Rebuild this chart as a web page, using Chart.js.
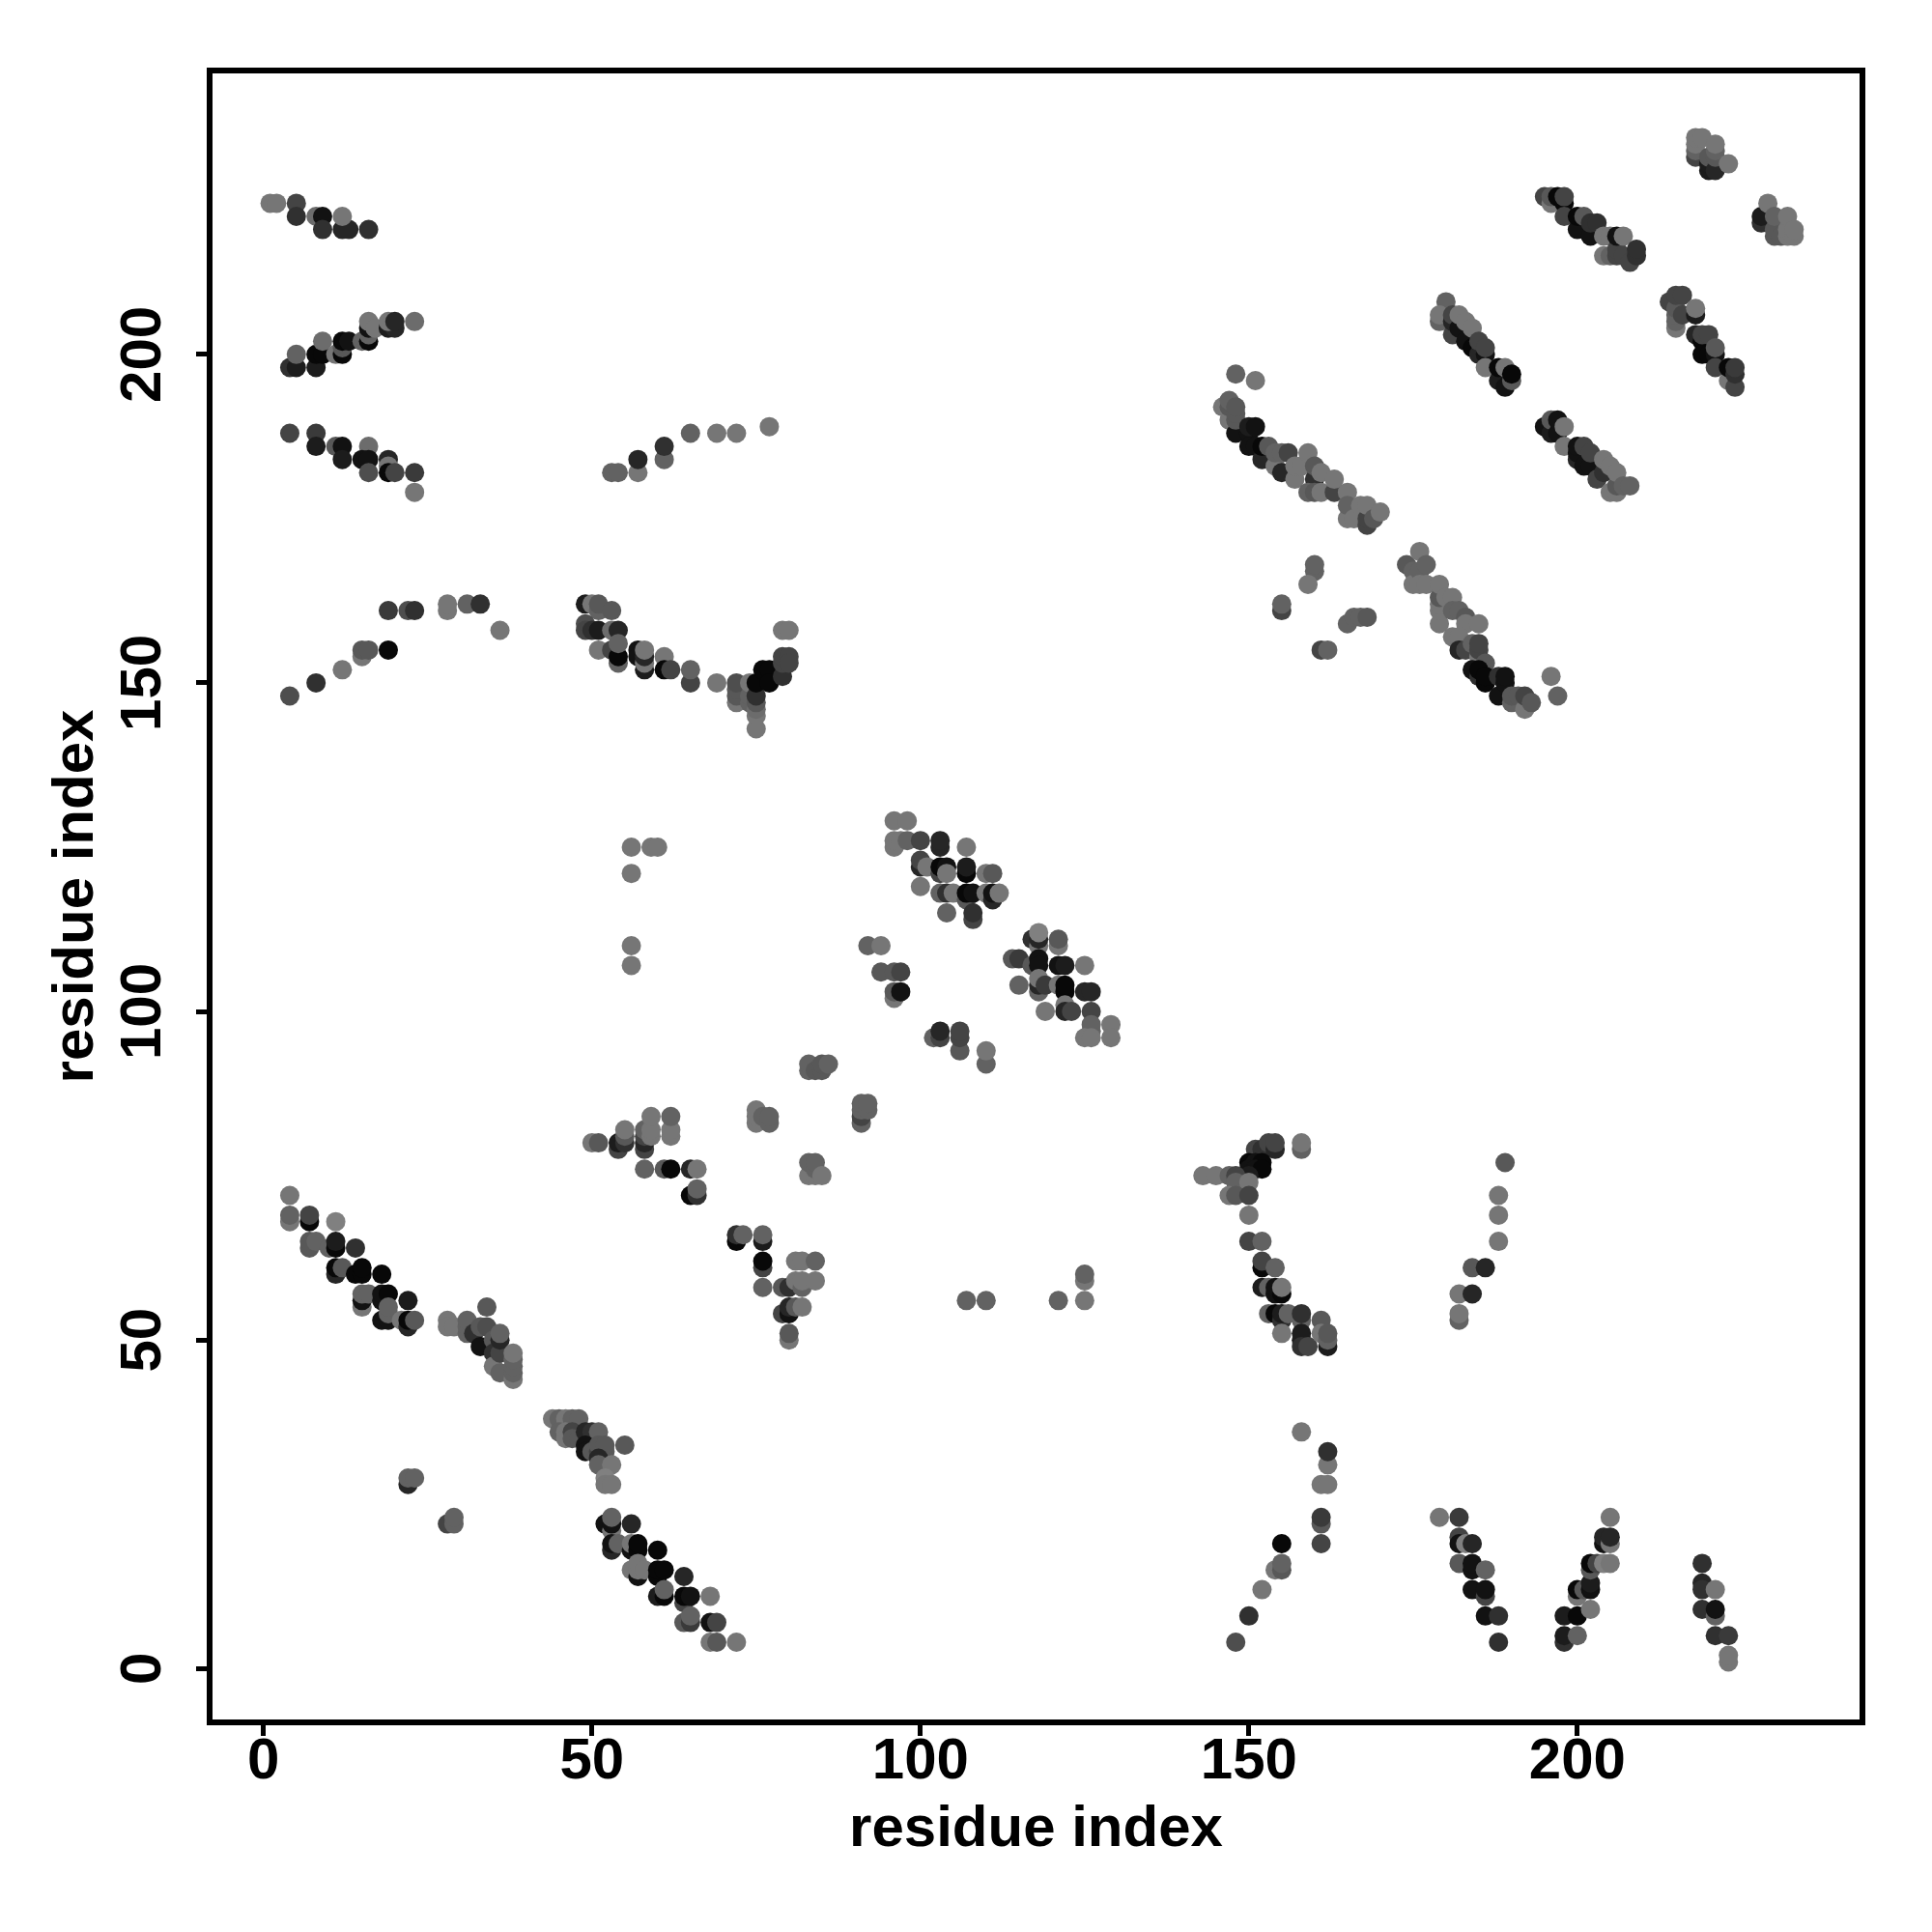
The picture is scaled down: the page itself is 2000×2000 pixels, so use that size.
<!DOCTYPE html>
<html>
<head>
<meta charset="utf-8">
<title>residue contacts</title>
<script src="https://cdn.jsdelivr.net/npm/chart.js@4"></script>
<style>
  html, body { margin: 0; padding: 0; background: #fff; }
  canvas { display: block; }
</style>
</head>
<body>
<canvas id="contactMap" width="2000" height="2000"></canvas>
<script>
const axisTicks = [0, 50, 100, 150, 200];
const axisLabel = 'residue index';

// each contact: [residue i, residue j, strength 0-12]
const topLeftA = [[1,223,1],[2,223,1],[5,223,6],[5,221,8],[8,221,2],[9,221,11],[9,219,8],[12,219,9],[13,219,9],[12,221,1],[16,219,8]];
const topLeftB = [[4,198,8],[5,198,10],[8,198,10],[8,200,12],[9,200,12],[5,200,3],[9,202,2],[11,200,1],[12,200,12],[12,201,4],[12,202,12],[13,202,11],[15,202,3],[16,202,12],[16,203,3],[16,204,11],[16,205,1],[17,204,1],[19,204,10],[20,204,9],[19,205,1],[20,205,9],[23,205,2]];
const topLeftC = [[4,188,6],[8,188,7],[8,186,10],[11,186,4],[12,186,11],[12,184,10],[16,186,2],[15,184,11],[16,184,11],[19,184,9],[16,182,5],[19,183,1],[19,182,12],[20,182,6],[23,182,7],[23,179,1]];
const upperArc = [[4,148,5],[8,150,8],[12,152,1],[15,154,1],[15,155,4],[16,155,4],[19,155,12],[19,161,7],[22,161,5],[23,161,8],[28,161,1],[28,162,1],[31,162,3],[33,162,8],[36,158,1]];
const upperDip = [[49,162,10],[50,162,1],[51,161,3],[51,162,4],[53,161,4],[49,159,5],[49,158,6],[50,158,8],[51,158,10],[53,158,2],[54,158,9],[51,155,1],[53,155,6],[54,153,3],[54,154,12],[54,156,3],[57,155,11],[57,154,11],[58,152,10],[58,153,1],[58,154,9],[58,155,1],[61,154,1],[61,152,12],[62,152,6],[65,150,6],[65,152,3],[69,150,1],[72,147,1],[72,148,4],[72,149,4],[72,150,5],[74,147,3],[74,148,3],[74,150,1],[75,143,1],[75,145,1],[75,146,2],[75,147,4],[75,148,8],[75,150,12],[76,152,12],[77,152,12],[77,150,12],[79,151,8],[79,153,6],[79,154,6],[79,158,1],[80,158,1],[80,154,6],[80,153,6]];
const upperLink = [[53,182,3],[54,182,3],[57,182,1],[57,184,9],[61,184,3],[61,186,8],[65,188,3],[69,188,1],[72,188,1],[77,189,1]];
const lowerDiagA = [[4,68,1],[4,69,3],[4,72,1],[7,68,12],[7,69,6],[11,68,0],[7,64,4],[7,65,4],[8,65,3],[10,64,3],[11,64,12],[11,65,10],[14,64,8],[11,60,9],[11,61,12],[12,61,4],[14,60,12],[15,60,12],[15,61,12],[18,60,12],[15,55,1],[15,56,11],[15,57,3],[16,57,3],[18,56,11],[18,57,11],[19,57,12],[22,56,10],[18,53,11],[19,53,11],[19,54,3],[19,55,3],[21,53,1],[22,52,9],[22,53,12],[23,53,4]];
const lowerDiagB = [[28,53,1],[28,52,1],[29,52,1],[31,51,3],[31,52,3],[31,53,3],[32,51,8],[33,49,11],[33,52,4],[34,52,5],[34,55,4],[35,50,4],[35,48,8],[35,46,1],[36,45,3],[36,48,6],[36,50,9],[36,51,3],[38,44,1],[38,45,3],[38,46,3],[38,47,3],[38,48,1]];
const lowerDiagC = [[44,38,1],[45,38,3],[46,38,1],[47,38,3],[48,38,3],[45,36,3],[46,36,1],[46,35,1],[47,36,6],[47,35,4],[48,35,4],[49,36,9],[50,36,8],[51,36,3],[49,34,11],[49,33,11],[50,33,4],[51,33,6],[52,33,4],[51,34,4],[52,34,4],[55,34,4],[51,32,9],[51,31,3],[53,31,1],[52,29,0],[52,28,1],[53,28,1]];
const lowerDiagD = [[52,22,11],[53,21,1],[53,22,11],[53,23,3],[56,22,9],[53,18,9],[53,19,11],[54,19,3],[56,18,11],[56,19,1],[57,18,12],[57,19,12],[60,18,12],[56,15,1],[57,14,11],[57,15,1],[57,16,1],[58,15,1],[60,14,12],[60,15,12],[61,15,12],[64,14,9],[60,11,10],[61,11,12],[61,12,3],[64,10,6],[64,11,12],[65,11,11],[68,11,1],[64,7,4],[65,7,7],[65,8,3],[68,7,11],[69,7,6],[68,4,1],[69,4,4],[72,4,1]];
const shortLoops = [[22,28,9],[22,29,3],[23,29,3],[28,22,6],[29,22,3],[29,23,3]];
const midGroupA = [[50,80,1],[51,80,4],[54,79,6],[54,80,10],[55,80,8],[55,81,4],[55,82,1],[58,79,6],[58,80,9],[58,81,6],[58,82,3],[59,81,1],[59,82,1],[59,84,1],[62,81,1],[62,82,1],[62,84,3],[58,76,3],[61,76,4],[62,76,12],[65,76,9],[66,76,1],[65,72,12],[66,72,8],[66,73,3]];
const midGroupB = [[75,83,1],[75,84,1],[75,85,1],[76,84,3],[77,83,3],[77,84,3],[83,75,1],[83,77,3],[84,75,1],[84,76,3],[84,77,3],[85,75,1],[83,91,3],[83,92,3],[84,91,4],[85,91,4],[85,92,4],[86,92,3],[91,83,3],[91,84,6],[91,85,3],[91,86,3],[92,85,3],[92,86,3]];
const midGroupC = [[72,65,12],[72,66,8],[73,66,3],[76,65,10],[76,66,3],[76,61,6],[76,62,12],[81,62,1],[82,62,1],[84,62,3],[76,58,3],[79,58,4],[80,58,8],[81,59,1],[82,58,3],[82,59,1],[84,59,1],[79,54,6],[80,54,11],[80,55,9],[81,55,4],[82,55,1],[80,50,1],[80,51,4]];
const sparseRow = [[107,56,3],[110,56,3],[121,56,3],[125,56,1],[125,59,1],[125,60,3],[56,125,1],[59,125,1],[60,125,1],[56,121,1],[56,110,1],[56,107,1]];
const centerA = [[96,129,1],[98,129,1],[96,125,1],[96,126,1],[97,126,1],[98,126,3],[100,126,6],[103,125,9],[103,126,9],[107,125,1],[100,122,9],[100,123,6],[101,122,1],[103,121,6],[103,122,12],[104,122,11],[104,121,1],[107,121,12],[107,122,10],[110,121,1],[111,121,4],[100,119,1],[103,118,3],[104,118,8],[105,118,1],[107,117,4],[107,118,12],[108,118,11],[110,118,1],[111,117,9],[111,118,11],[112,118,1],[104,115,3],[108,114,6],[108,115,8]];
const centerB = [[92,110,3],[94,110,1],[94,106,4],[96,106,4],[97,106,6],[96,102,1],[96,103,4],[97,103,11],[102,96,3],[103,96,6],[103,97,9],[106,94,4],[106,96,6],[106,97,6],[110,92,3],[110,94,1]];
const centerC = [[117,111,8],[118,110,1],[118,111,9],[118,112,0],[121,110,1],[121,111,4],[114,108,4],[115,108,7],[117,107,4],[118,108,11],[118,107,11],[121,107,11],[122,107,10],[125,107,1],[115,104,3],[118,103,3],[118,104,9],[118,105,1],[119,104,7],[121,104,1],[122,103,12],[122,104,12],[125,103,9],[126,103,9],[119,100,1],[122,101,1],[122,100,9],[123,100,6],[126,100,6],[126,97,3],[126,98,3],[129,98,1],[125,96,1],[126,96,1],[129,96,1]];
const rightLowerA = [[158,79,3],[158,80,1],[151,79,6],[152,79,8],[153,80,6],[154,79,9],[154,80,6],[150,77,12],[151,77,11],[152,77,12],[150,76,11],[151,76,11],[152,76,12],[150,75,10],[143,75,1],[145,75,1],[147,75,3],[148,75,6],[148,74,3],[150,74,1],[147,72,1],[148,72,4],[150,72,6],[150,69,1]];
const rightLowerB = [[150,65,6],[152,65,3],[152,61,12],[152,62,6],[154,61,3],[152,58,10],[153,58,3],[154,57,11],[154,58,11],[155,57,12],[155,58,1],[153,54,3],[154,54,12],[155,53,8],[155,54,10],[156,54,3],[155,51,1],[158,53,3],[158,54,8],[161,53,4],[158,50,10],[158,51,10],[158,49,8],[159,49,6],[161,51,1],[162,49,10],[162,50,3],[162,51,4]];
const rightStreak = [[182,53,3],[182,54,1],[182,57,1],[184,57,9],[184,61,4],[186,61,9],[188,65,1],[188,69,1],[188,72,1],[189,77,4]];
const bandA = [[146,192,1],[147,190,1],[147,192,4],[147,193,3],[148,188,11],[148,190,4],[148,191,4],[148,192,4],[150,188,11],[150,189,10],[151,189,11],[150,186,11],[151,186,11],[152,184,9],[152,186,12],[153,186,4],[154,183,1],[154,185,3],[155,182,9],[155,185,3],[156,185,6],[157,181,1],[157,183,1],[158,183,1],[159,185,1],[160,181,8],[160,183,4],[159,179,3],[160,179,4],[161,179,1],[161,182,1],[163,179,6],[163,181,1],[165,179,1],[165,175,1],[165,177,3],[166,175,1],[167,177,1],[168,174,6],[168,175,6],[168,177,1],[169,175,4],[170,176,1]];
const bandB = [[174,168,4],[175,167,3],[175,165,1],[176,170,1],[176,167,3],[176,165,1],[177,168,3],[177,165,1],[179,159,1],[179,161,1],[179,162,1],[179,163,4],[179,165,1],[180,163,1],[181,163,1],[181,161,3],[182,161,3],[183,160,4],[183,159,1],[185,159,1],[181,157,1],[182,157,1],[182,155,9],[183,155,6],[184,156,3],[185,154,1],[185,155,6],[185,156,6],[186,153,4],[184,152,11],[185,151,8],[185,152,12],[186,150,12],[186,151,12],[188,148,11],[188,151,8],[189,150,11],[189,151,11],[190,147,3],[190,148,4],[191,148,4],[192,146,1],[192,148,6],[193,147,4],[196,151,1],[197,148,3]];
const bandOutliers = [[148,197,3],[151,196,1],[160,167,3],[160,168,3],[159,165,1],[155,161,6],[155,162,3],[161,155,6],[162,155,3],[165,159,3],[166,160,3],[167,160,3],[168,160,4]];
const upperRightA = [[180,208,3],[179,205,3],[179,206,1],[181,203,6],[181,205,9],[181,206,6],[182,204,11],[182,206,1],[183,202,11],[183,205,1],[184,201,12],[184,204,1],[185,200,9],[185,202,6],[186,200,11],[186,201,6],[186,198,1],[188,196,10],[188,198,12],[189,195,11],[189,198,1],[190,196,4],[190,197,12]];
const upperRightB = [[195,189,11],[196,188,10],[196,190,4],[197,188,11],[197,190,11],[198,189,1],[198,186,1],[200,184,9],[200,185,11],[200,186,11],[201,183,11],[201,186,6],[202,183,11],[202,185,6],[203,181,6],[204,182,8],[204,184,1],[205,179,1],[205,183,1],[206,179,1],[206,180,4],[206,182,1],[207,180,3],[208,180,3]];
const cornerA = [[195,224,6],[196,223,1],[196,224,4],[197,224,12],[198,223,12],[198,224,6],[198,221,6],[200,219,11],[200,221,12],[201,221,4],[202,218,11],[202,220,8],[203,220,8],[204,215,1],[204,218,1],[205,215,3],[205,218,1],[206,215,6],[206,216,6],[206,218,11],[207,218,1],[207,215,6],[208,214,6],[209,215,8],[209,216,8]];
const cornerB = [[214,208,6],[215,204,1],[215,205,3],[215,206,3],[215,207,4],[215,209,6],[216,206,6],[216,209,6],[218,206,10],[218,207,1],[218,203,9],[219,202,12],[219,200,12],[219,203,6],[220,200,12],[220,203,6],[221,200,11],[221,201,4],[221,198,6],[223,196,1],[223,198,12],[224,195,6],[224,197,8],[224,198,7]];
const cornerC = [[218,230,6],[218,231,3],[218,232,1],[218,233,1],[219,233,1],[220,228,10],[220,229,10],[220,230,4],[221,228,9],[221,230,4],[221,231,3],[221,232,1],[223,229,1]];
const cornerD = [[228,220,8],[228,221,10],[229,223,1],[230,218,4],[230,219,4],[230,221,3],[231,218,4],[232,218,1],[232,219,1],[232,221,1],[233,218,1],[233,219,1]];
const bottomArc = [[148,4,5],[150,8,8],[152,12,1],[154,15,1],[155,15,4],[155,16,3],[155,19,12],[161,19,6],[161,22,4],[161,23,7],[161,28,1],[162,28,1],[162,31,1],[162,33,8],[158,36,1]];
const bottomB = [[179,23,1],[182,23,7],[182,20,6],[182,19,11],[183,19,0],[184,19,9],[182,16,4],[184,15,11],[184,16,11],[186,15,3],[184,12,11],[186,11,6],[186,12,11],[186,8,11],[188,8,8],[188,4,8]];
const bottomC = [[198,4,8],[198,5,10],[200,5,3],[198,8,10],[200,8,12],[202,9,1],[200,11,1],[200,12,12],[201,12,4],[202,12,11],[202,13,10],[202,15,4],[202,16,12],[203,16,6],[204,16,0],[205,16,1],[204,19,11],[204,20,9],[205,19,1],[205,20,9],[205,23,1]];
const bottomD = [[219,16,8],[219,13,9],[219,12,8],[219,9,8],[221,12,1],[221,8,3],[221,9,11],[221,5,8],[223,5,7],[223,1,1],[223,2,1]];

const clusters = [
  topLeftA, topLeftB, topLeftC, upperArc, upperDip, upperLink, lowerDiagA, lowerDiagB, lowerDiagC, lowerDiagD,
  shortLoops, midGroupA, midGroupB, midGroupC, sparseRow, centerA, centerB, centerC, rightLowerA, rightLowerB,
  rightStreak, bandA, bandB, bandOutliers, upperRightA, upperRightB, cornerA, cornerB, cornerC, cornerD,
  bottomArc, bottomB, bottomC, bottomD
];

const shadeOf = (s) => {
    const g = 128 - s * 10;
    return `rgb(${g}, ${g}, ${g})`;
};

const boxBorder = {
    id: 'boxBorder',
    afterDatasetsDraw(chart) {
        const { ctx, chartArea: a } = chart;
        ctx.save();
        ctx.strokeStyle = '#000';
        ctx.lineWidth = 6;
        ctx.strokeRect(a.left, a.top, a.right - a.left, a.bottom - a.top);
        ctx.restore();
    }
};

const labelFont = { family: '"Liberation Sans", Arial, sans-serif', size: 60, weight: 'bold' };
const placeTicks = (axis) => { axis.ticks = axisTicks.map((value) => ({ value })); };

new Chart(document.getElementById('contactMap').getContext('2d'), {
    type: 'scatter',
    data: {
        datasets: clusters.map((points) => ({
            data: points.map(([x, y]) => ({ x, y })),
            pointRadius: 10,
            pointBorderWidth: 0,
            pointBackgroundColor: points.map((p) => shadeOf(p[2]))
        }))
    },
    options: {
        responsive: false,
        animation: false,
        layout: { padding: { left: 0, top: 73, right: 72, bottom: 0 } },
        plugins: { legend: { display: false }, tooltip: { enabled: false } },
        scales: {
            x: {
                min: -8.2,
                max: 243.4,
                afterBuildTicks: placeTicks,
                afterFit: (axis) => { axis.height = 217; },
                grid: { drawOnChartArea: false, tickLength: 14, tickWidth: 5, tickColor: '#000' },
                border: { display: false },
                ticks: { color: '#000', font: labelFont, padding: -9, maxRotation: 0, autoSkip: false },
                title: { display: true, text: axisLabel, color: '#000', font: labelFont, padding: { top: 0, bottom: 70 } }
            },
            y: {
                min: -8.2,
                max: 243.2,
                afterBuildTicks: placeTicks,
                afterFit: (axis) => { axis.width = 217; },
                grid: { drawOnChartArea: false, tickLength: 14, tickWidth: 5, tickColor: '#000' },
                border: { display: false },
                ticks: { color: '#000', font: labelFont, padding: 3, minRotation: 90, maxRotation: 90, crossAlign: 'center', autoSkip: false },
                title: { display: true, text: axisLabel, color: '#000', font: labelFont, padding: { top: 43, bottom: 43 } }
            }
        }
    },
    plugins: [boxBorder]
});
</script>
</body>
</html>
